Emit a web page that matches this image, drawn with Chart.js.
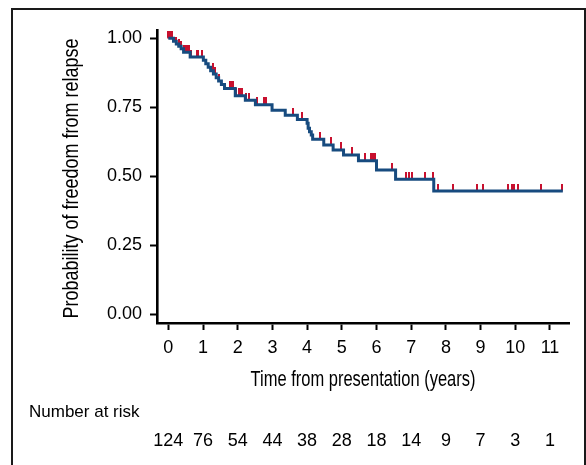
<!DOCTYPE html>
<html>
<head>
<meta charset="utf-8">
<script src="https://cdn.jsdelivr.net/npm/chart.js@4/dist/chart.umd.min.js"></script>
<style>
html,body{margin:0;padding:0;background:#fff;}
canvas{display:block;}
</style>
</head>
<body>
<canvas id="c" width="586" height="465"></canvas>
<script>
// ---- data ----
const eventTimes = [0, 0.15, 0.23, 0.30, 0.37, 0.44, 0.63, 1.01, 1.08, 1.15, 1.22, 1.30, 1.38, 1.45, 1.53, 1.62, 1.93, 2.22, 2.51, 2.99, 3.37, 3.72, 4.00, 4.03, 4.07, 4.12, 4.16, 4.48, 4.75, 5.05, 5.48, 6.00, 6.55, 7.65, 11.37];
const survival   = [1, 0.989, 0.979, 0.971, 0.962, 0.949, 0.932, 0.920, 0.908, 0.895, 0.882, 0.870, 0.857, 0.845, 0.832, 0.818, 0.792, 0.775, 0.759, 0.739, 0.721, 0.705, 0.692, 0.674, 0.661, 0.649, 0.634, 0.613, 0.595, 0.577, 0.556, 0.522, 0.489, 0.446, 0.446];
const censorTimes = [0.0, 0.03, 0.07, 0.10, 0.23, 0.31, 0.37, 0.46, 0.51, 0.54, 0.60, 0.65, 0.83, 0.87, 0.97, 1.28, 1.35, 1.46, 1.78, 1.82, 1.86, 1.94, 2.04, 2.09, 2.13, 2.23, 2.33, 2.56, 2.76, 2.82, 3.60, 3.86, 4.37, 4.69, 4.98, 5.29, 5.67, 5.84, 5.90, 5.96, 6.46, 6.84, 6.94, 7.03, 7.40, 7.63, 7.77, 8.20, 8.89, 9.06, 9.80, 9.90, 9.95, 10.08, 10.74, 11.34];
const xTicks = [0,1,2,3,4,5,6,7,8,9,10,11];
const yTicks = [0, 0.25, 0.5, 0.75, 1.0];
const riskYears  = [0,1,2,3,4,5,6,7,8,9,10,11];
const riskCounts = [124, 76, 54, 44, 38, 28, 18, 14, 9, 7, 3, 1];
const xTitle = 'Time from presentation (years)';
const yTitle = 'Probability of freedom from relapse';
const riskTitle = 'Number at risk';

const BLUE = '#174b7f';
const RED = '#c8102e';
const SANS = "'Liberation Sans', Arial, Helvetica, sans-serif";

function survAt(t) {
  let s = survival[0];
  for (let i = 0; i < eventTimes.length; i++) { if (eventTimes[i] <= t) s = survival[i]; }
  return s;
}

// censor mark image: red tick in the upper half so it sits on the curve
const tick = document.createElement('canvas');
tick.width = 2; tick.height = 15;
(function(){ const g = tick.getContext('2d'); g.fillStyle = RED; g.fillRect(0, 0, 2, 7.5); })();

const curve = eventTimes.map((t, i) => ({x: t, y: survival[i]}));
const censors = censorTimes.map(t => ({x: t, y: survAt(t)}));

// condensed text: Liberation Sans squeezed horizontally to the reference's width
function condensedText(ctx, text, cx, cy, size, targetWidth, rotate) {
  ctx.save();
  ctx.font = size + 'px ' + SANS;
  const w = ctx.measureText(text).width;
  const k = targetWidth / w;
  ctx.translate(cx, cy);
  if (rotate) ctx.rotate(-Math.PI / 2);
  ctx.scale(k, 1);
  ctx.textAlign = 'center';
  ctx.textBaseline = 'middle';
  ctx.fillStyle = '#000';
  ctx.fillText(text, 0, 0);
  ctx.restore();
}

const framePlugin = {
  id: 'frame',
  beforeDraw(chart) {
    const ctx = chart.ctx;
    ctx.save(); ctx.fillStyle = '#fff'; ctx.fillRect(0, 0, chart.width, chart.height); ctx.restore();
  },
  afterDraw(chart) {
    const ctx = chart.ctx;
    const ca = chart.chartArea;
    ctx.save();
    ctx.strokeStyle = '#1a1a1a'; ctx.lineWidth = 2;
    ctx.beginPath();
    ctx.moveTo(12, 470); ctx.lineTo(12, 9); ctx.lineTo(585, 9); ctx.lineTo(585, 470);
    ctx.stroke();
    ctx.restore();
    // axis titles
    condensedText(ctx, xTitle, (ca.left + ca.right) / 2, 380, 21.5, 225, false);
    condensedText(ctx, yTitle, 72, (ca.top + ca.bottom) / 2 + 2, 21.5, 280, true);
    // number at risk table
    const xs = chart.scales.x;
    ctx.save();
    ctx.fillStyle = '#000';
    ctx.textBaseline = 'middle';
    ctx.textAlign = 'left';
    ctx.font = '17px ' + SANS;
    ctx.fillText(riskTitle, 29, 412);
    ctx.textAlign = 'center';
    ctx.font = '18px ' + SANS;
    riskYears.forEach((yr, i) => {
      ctx.fillText(String(riskCounts[i]), xs.getPixelForValue(yr), 441);
    });
    ctx.restore();
  }
};

new Chart(document.getElementById('c'), {
  type: 'scatter',
  data: {
    datasets: [
      { label: 'KM', data: curve, showLine: true, stepped: true, borderColor: BLUE, backgroundColor: BLUE,
        borderWidth: 3, pointRadius: 0, fill: false, order: 0 },
      { label: 'Censored', data: censors, showLine: false, pointStyle: tick, pointRadius: 4, order: 1 }
    ]
  },
  options: {
    responsive: false,
    animation: false,
    devicePixelRatio: 1,
    layout: { padding: { left: 12, top: 30, right: 17, bottom: 72 } },
    plugins: { legend: { display: false }, tooltip: { enabled: false } },
    scales: {
      x: {
        type: 'linear', min: -0.326, max: 11.548,
        afterBuildTicks: s => { s.ticks = xTicks.map(v => ({value: v})); },
        afterFit: s => { s.height = 70; },
        grid: { display: true, drawOnChartArea: false, drawTicks: true, tickLength: 7, tickWidth: 2, tickColor: '#000' },
        border: { display: true, color: '#000', width: 2.6 },
        ticks: { color: '#000', font: { family: SANS, size: 18 }, padding: 7, maxRotation: 0, autoSkip: false },
        title: { display: false }
      },
      y: {
        type: 'linear', min: -0.0326, max: 1.030,
        afterBuildTicks: s => { s.ticks = yTicks.map(v => ({value: v})); },
        afterFit: s => { s.width = 145; },
        grid: { display: true, drawOnChartArea: false, drawTicks: true, tickLength: 7, tickWidth: 2, tickColor: '#000' },
        border: { display: true, color: '#000', width: 2.6 },
        ticks: { color: '#000', font: { family: SANS, size: 18 }, padding: 8, callback: v => Number(v).toFixed(2) },
        title: { display: false }
      }
    }
  },
  plugins: [framePlugin]
});
</script>
</body>
</html>
